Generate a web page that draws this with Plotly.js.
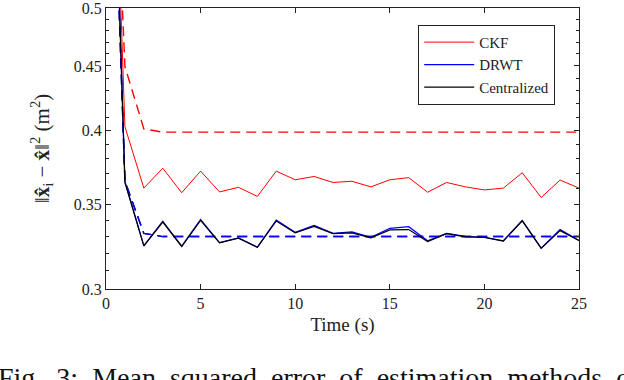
<!DOCTYPE html>
<html>
<head>
<meta charset="utf-8">
<script src="https://cdn.plot.ly/plotly-3.0.1.min.js"></script>
<style>
  body { margin: 0; background: #fff; }
  #plot { width: 624px; height: 380px; }
</style>
</head>
<body>
<div id="plot"></div>
<script>
// time steps (s)
var timeSteps = [0, 1, 2, 3, 4, 5, 6, 7, 8, 9, 10, 11, 12, 13, 14, 15, 16, 17, 18, 19, 20, 21, 22, 23, 24, 25];

// empirical MSE
var ckfMse = [1.1, 0.403, 0.3604, 0.3737, 0.3574, 0.3717, 0.3579, 0.3609, 0.3550, 0.3717, 0.3659, 0.3681, 0.3641,
  0.3649, 0.3612, 0.3659, 0.3673, 0.3577, 0.3641, 0.3612, 0.3592, 0.3604, 0.3706, 0.3543, 0.3657, 0.3604];
var drwtMse = [1.1, 0.365, 0.3245, 0.3394, 0.3243, 0.3404, 0.3264, 0.3292, 0.3237, 0.3400, 0.3326, 0.3367, 0.3319,
  0.3328, 0.3296, 0.3350, 0.3360, 0.3275, 0.3319, 0.3302, 0.3296, 0.3275, 0.3398, 0.3231, 0.3342, 0.3277];
var centralMse = [1.1, 0.364, 0.3245, 0.3388, 0.3241, 0.3398, 0.3262, 0.3290, 0.3236, 0.3395, 0.3322, 0.3362, 0.3318,
  0.3322, 0.3292, 0.3340, 0.3342, 0.3270, 0.3318, 0.3298, 0.3295, 0.3273, 0.3396, 0.3230, 0.3336, 0.3276];

// predicted MSE (dashed)
var ckfBound = [1.0, 0.4495, 0.4014, 0.399, 0.399, 0.399, 0.399, 0.399, 0.399, 0.399, 0.399, 0.399, 0.399,
  0.399, 0.399, 0.399, 0.399, 0.399, 0.399, 0.399, 0.399, 0.399, 0.399, 0.399, 0.399, 0.399];
var drwtBound = [1.0, 0.365, 0.3319, 0.330, 0.330, 0.330, 0.330, 0.330, 0.330, 0.330, 0.330, 0.330, 0.330,
  0.330, 0.330, 0.330, 0.330, 0.330, 0.330, 0.330, 0.330, 0.330, 0.330, 0.330, 0.330, 0.330];

var yTicks = [0.3, 0.35, 0.4, 0.45, 0.5];
var yTickText = ["0.3", "0.35", "0.4", "0.45", "0.5"];
var xTicks = [0, 5, 10, 15, 20, 25];
var yMinorTicks = [];
for (var k = 31; k < 50; k++) {
  if (k % 5 != 0) yMinorTicks.push(k / 100);
}

var serif = "Liberation Serif";

var data = [
  { x: timeSteps, y: ckfBound, mode: "lines", showlegend: false,
    line: { color: "#ff0000", width: 1.4, dash: "10px,6px" } },
  { x: timeSteps, y: drwtBound, mode: "lines", showlegend: false,
    line: { color: "#000000", width: 1.4, dash: "10px,6px" } },
  { x: timeSteps, y: drwtBound, mode: "lines", showlegend: false,
    line: { color: "#0000ff", width: 1.4, dash: "10px,6px" } },
  { x: timeSteps, y: ckfMse, mode: "lines", name: "CKF",
    line: { color: "#ff0000", width: 1 } },
  { x: timeSteps, y: drwtMse, mode: "lines", name: "DRWT",
    line: { color: "#0000ff", width: 1.2 } },
  { x: timeSteps, y: centralMse, mode: "lines", name: "Centralized",
    line: { color: "#000000", width: 1.2 } }
];

var layout = {
  width: 624,
  height: 380,
  margin: { l: 106, r: 45, t: 8, b: 91 },
  paper_bgcolor: "#ffffff",
  plot_bgcolor: "#ffffff",
  font: { family: serif, size: 16, color: "#222222" },
  xaxis: {
    range: [0, 25],
    tickmode: "array",
    tickvals: xTicks,
    ticks: "inside",
    ticklen: 5,
    tickcolor: "#222222",
    showline: true,
    linecolor: "#222222",
    linewidth: 1,
    mirror: "allticks",
    showgrid: false,
    zeroline: false,
    ticklabeloverflow: "allow",
    tickfont: { family: serif, size: 16 },
    title: { text: "Time (s)", font: { family: serif, size: 19 }, standoff: 6 }
  },
  yaxis: {
    type: "log",
    range: [Math.log10(0.3), Math.log10(0.5)],
    tickmode: "array",
    tickvals: yTicks,
    ticktext: yTickText,
    ticks: "inside",
    ticklen: 5,
    tickcolor: "#222222",
    showline: true,
    linecolor: "#222222",
    linewidth: 1,
    mirror: "allticks",
    showgrid: false,
    zeroline: false,
    ticklabeloverflow: "allow",
    tickfont: { family: serif, size: 16 },
    minor: { tickmode: "array", tickvals: yMinorTicks, ticks: "inside", ticklen: 3, tickcolor: "#222222", showgrid: false },
    title: {
      text: "\u2016<b>x\u0302</b><sub>i</sub> \u2212 <b>x\u0302</b>\u2016<sup>2</sup> (m<sup>2</sup>)",
      font: { family: serif, size: 21 },
      standoff: 18
    }
  },
  legend: {
    x: 0.66, y: 0.94, xanchor: "left", yanchor: "top",
    bgcolor: "#ffffff",
    bordercolor: "#222222",
    borderwidth: 1,
    font: { family: serif, size: 15, color: "#222222" },
    tracegroupgap: 0,
    itemwidth: 50
  },
  annotations: [{
    text: "Fig.\u00a0 3:\u00a0 Mean\u00a0 squared\u00a0 error\u00a0 of\u00a0 estimation\u00a0 methods\u00a0 o",
    xref: "paper", yref: "paper",
    x: -0.232, y: -0.252,
    xanchor: "left", yanchor: "top",
    showarrow: false,
    font: { family: serif, size: 28, color: "#111111" }
  }]
};

Plotly.newPlot("plot", data, layout, { displayModeBar: false, staticPlot: true });
</script>
</body>
</html>
